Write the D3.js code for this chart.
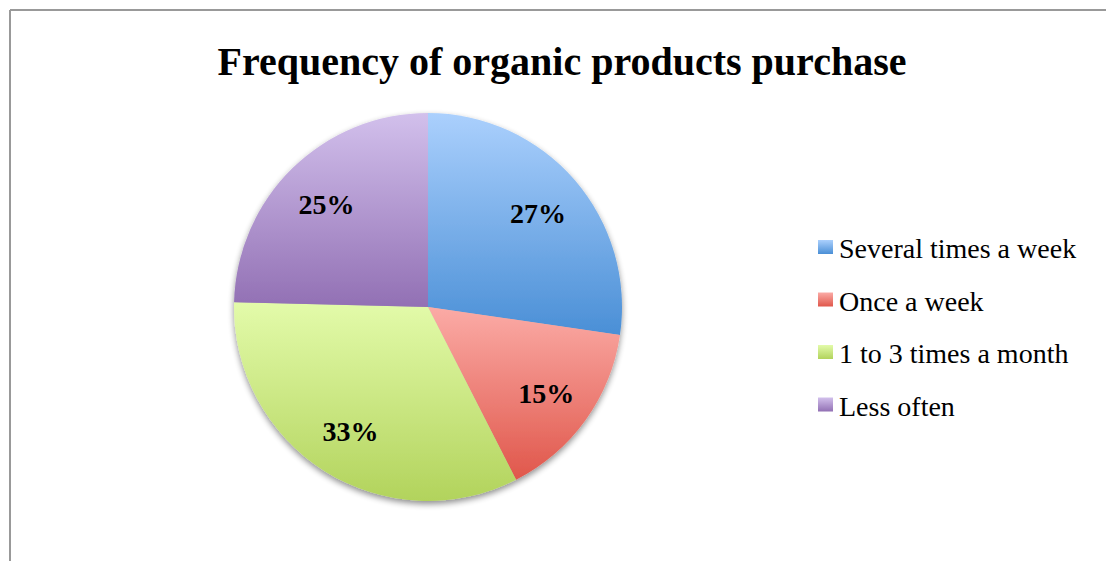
<!DOCTYPE html>
<html>
<head>
<meta charset="utf-8">
<script src="https://cdn.jsdelivr.net/npm/d3@7"></script>
<style>
  html, body { margin: 0; padding: 0; background: #fff; }
  svg { display: block; }
</style>
</head>
<body>
<div id="paper"></div>
<script>
var categories = ['Several times a week', 'Once a week', '1 to 3 times a month', 'Less often']
var shares = [27.3, 15.2, 32.9, 24.6]
var labels = ['27%', '15%', '33%', '25%']
var colorsTop = ['#abd0fd', '#fbaba6', '#e3fbaa', '#d2c0ec']
var colorsBottom = ['#4a8fd6', '#e0574b', '#b2d35c', '#9270b4']

var width = 1106, height = 561
var cx = 428, cy = 307, r = 194

var svg = d3.select('#paper')
    .append('svg')
    .attr('width', width)
    .attr('height', height)

var defs = svg.append('defs')

// slice gradients, each one top to bottom over its own box
categories.forEach(function(c, i) {
    var g = defs.append('linearGradient')
        .attr('id', 'grad' + i)
        .attr('x1', 0).attr('y1', 0).attr('x2', 0).attr('y2', 1)
    g.append('stop').attr('offset', '0%').attr('stop-color', colorsTop[i])
    g.append('stop').attr('offset', '100%').attr('stop-color', colorsBottom[i])
})

var shadow = defs.append('filter')
    .attr('id', 'shadow')
    .attr('x', '-10%').attr('y', '-10%').attr('width', '120%').attr('height', '125%')
shadow.append('feGaussianBlur').attr('in', 'SourceAlpha').attr('stdDeviation', 3)
shadow.append('feOffset').attr('dx', 0).attr('dy', 3).attr('result', 'b')
shadow.append('feComponentTransfer').append('feFuncA').attr('type', 'linear').attr('slope', 0.45)
var merge = shadow.append('feMerge')
merge.append('feMergeNode')
merge.append('feMergeNode').attr('in', 'SourceGraphic')

// frame (only top and left edges show in the crop)
svg.append('line')
    .attr('x1', 10).attr('y1', 10).attr('x2', width).attr('y2', 10)
    .style('stroke', '#999').style('stroke-width', 2)
svg.append('line')
    .attr('x1', 10).attr('y1', 10).attr('x2', 10).attr('y2', height)
    .style('stroke', '#999').style('stroke-width', 2)

// title
svg.append('text')
    .attr('x', 562)
    .attr('y', 75)
    .attr('text-anchor', 'middle')
    .style('font-family', 'Liberation Serif, serif')
    .style('font-weight', 'bold')
    .style('font-size', '40px')
    .text('Frequency of organic products purchase')

var pie = d3.pie().sort(null).value(function(d) { return d })
var arcs = pie(shares)
var arc = d3.arc().innerRadius(0).outerRadius(r)
var labelArc = d3.arc().innerRadius(r * 0.75).outerRadius(r * 0.75)

var g = svg.append('g').attr('transform', 'translate(' + cx + ',' + cy + ')')

var pieGroup = g.append('g').attr('filter', 'url(#shadow)')
pieGroup.selectAll('path')
    .data(arcs)
    .join('path')
    .attr('d', arc)
    .style('fill', function(d, i) { return 'url(#grad' + i + ')' })

g.selectAll('text.pct')
    .data(arcs)
    .join('text')
    .attr('class', 'pct')
    .attr('transform', function(d) { return 'translate(' + labelArc.centroid(d) + ')' })
    .attr('text-anchor', 'middle')
    .attr('dy', '0.4em')
    .style('font-family', 'Liberation Serif, serif')
    .style('font-weight', 'bold')
    .style('font-size', '28px')
    .text(function(d, i) { return labels[i] })

// legend
var legend = svg.append('g').attr('transform', 'translate(818,240)')
var rows = legend.selectAll('g')
    .data(categories)
    .join('g')
    .attr('transform', function(d, i) { return 'translate(0,' + (i * 52.5) + ')' })

rows.append('rect')
    .attr('width', 15).attr('height', 14)
    .style('fill', function(d, i) { return 'url(#grad' + i + ')' })

rows.append('text')
    .attr('x', 21)
    .attr('y', 18)
    .style('font-family', 'Liberation Serif, serif')
    .style('font-size', '28px')
    .text(function(d) { return d })
</script>
</body>
</html>
